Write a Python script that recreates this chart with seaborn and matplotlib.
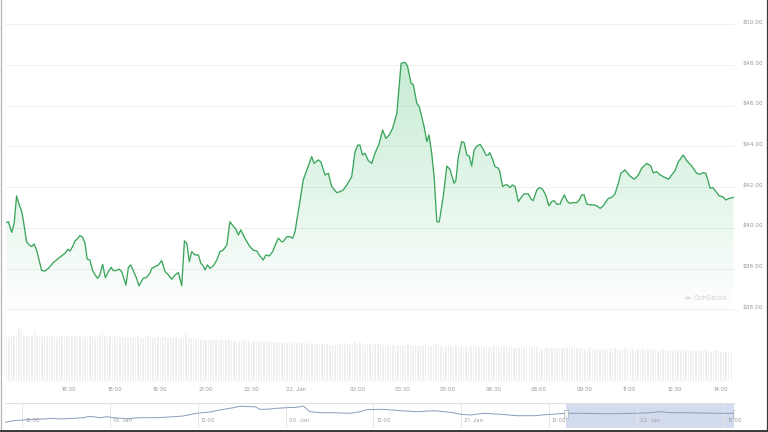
import numpy as np
import pandas as pd
import matplotlib
matplotlib.use("Agg")
import matplotlib.pyplot as plt
import seaborn as sns
from matplotlib.lines import Line2D
from matplotlib.patches import Rectangle, Circle
from matplotlib.transforms import blended_transform_factory, offset_copy, ScaledTranslation

# ---------------- data ----------------
# hours since 21 Jan 00:00
hours = [
    14.43, 14.49, 14.60, 14.68, 14.76, 14.85, 14.93, 14.98, 15.09, 15.18,
    15.26, 15.34, 15.42, 15.59, 15.70, 15.81, 15.97, 16.19, 16.36, 16.45,
    16.52, 16.61, 16.69, 16.76, 16.85, 16.94, 17.02, 17.09, 17.18, 17.27,
    17.35, 17.44, 17.51, 17.60, 17.69, 17.79, 17.88, 17.95, 18.04, 18.14,
    18.23, 18.37, 18.45, 18.53, 18.61, 18.72, 18.80, 18.94, 19.05, 19.16,
    19.22, 19.33, 19.44, 19.55, 19.66, 19.77, 19.88, 19.99, 20.10, 20.21,
    20.30, 20.38, 20.46, 20.54, 20.65, 20.76, 20.84, 20.92, 20.98, 21.06,
    21.14, 21.25, 21.37, 21.47, 21.58, 21.70, 21.80, 21.91, 22.00, 22.08,
    22.16, 22.24, 22.36, 22.46, 22.57, 22.69, 22.79, 22.90, 22.99, 23.10,
    23.21, 23.32, 23.40, 23.51, 23.56, 23.68, 23.78, 23.87, 23.95, 24.01,
    24.11,
    24.22, 24.34, 24.50, 24.58, 24.72, 24.80, 24.94, 25.05, 25.16, 25.33,
    25.43, 25.54, 25.66, 25.82, 25.93, 26.02, 26.09, 26.18, 26.26, 26.37,
    26.48, 26.59, 26.73, 26.84, 26.95, 27.06, 27.17, 27.31, 27.45, 27.58,
    27.66, 27.78, 27.85, 27.97, 28.05, 28.21, 28.30, 28.37, 28.46, 28.54,
    28.63, 28.71, 28.84, 28.96, 29.06,
    29.20, 29.26, 29.34, 29.45, 29.53, 29.62, 29.70, 29.78, 29.86, 29.95,
    30.06, 30.16, 30.25, 30.33, 30.38, 30.47, 30.55, 30.66, 30.71, 30.80,
    30.88, 30.96, 31.04, 31.12, 31.21, 31.32, 31.43, 31.51, 31.65, 31.74,
    31.81, 31.93, 32.01, 32.12, 32.22, 32.33, 32.42, 32.50, 32.59, 32.70,
    32.75, 32.84, 32.92, 33.00, 33.13, 33.25, 33.33, 33.41, 33.49, 33.58,
    33.69, 33.82, 33.91, 34.02,
    34.12, 34.29, 34.40, 34.51, 34.62, 34.70, 34.84, 35.00, 35.15, 35.28,
    35.39, 35.56, 35.69, 35.77, 35.89, 36.00, 36.10, 36.27, 36.38, 36.49,
    36.60, 36.76, 36.88, 37.04, 37.21, 37.32, 37.40, 37.51, 37.65, 37.74,
    37.87, 37.95, 38.07, 38.17, 38.28, 38.42,
]
prices = [
    40.26, 40.30, 39.78, 40.23, 41.57, 41.13, 40.80, 40.39, 39.32, 39.16,
    39.08, 39.21, 38.91, 37.90, 37.88, 38.01, 38.29, 38.56, 38.75, 38.95,
    38.86, 39.08, 39.37, 39.44, 39.62, 39.54, 39.24, 38.47, 38.42, 37.90,
    37.69, 37.52, 37.69, 38.21, 37.55, 37.85, 38.06, 37.90, 37.90, 37.97,
    37.85, 37.19, 38.06, 38.18, 37.90, 37.52, 37.15, 37.52, 37.57, 37.77,
    38.01, 38.09, 38.18, 38.39, 37.85, 37.69, 37.47, 37.69, 37.80, 37.16,
    39.36, 39.24, 38.34, 38.83, 38.67, 38.67, 38.26, 38.13, 37.93, 38.18,
    38.01, 38.13, 38.42, 38.83, 38.91, 39.16, 40.30, 40.09, 39.93, 39.65,
    39.90, 39.65, 39.32, 39.08, 38.91, 38.86, 38.62, 38.42, 38.67, 38.62,
    38.83, 39.24, 39.49, 39.32, 39.32, 39.57, 39.57, 39.49, 39.81, 40.39,
    41.29,
    42.35, 42.85, 43.50, 43.17, 43.34, 43.25, 42.60, 42.68, 42.03, 41.73,
    41.78, 41.86, 42.11, 42.52, 43.74, 44.07, 44.07, 43.58, 43.67, 43.30,
    43.17, 43.67, 44.16, 44.81, 44.40, 44.57, 44.89, 45.63, 48.09, 48.14,
    47.96, 47.11, 47.06, 46.12, 45.96, 44.97, 44.24, 44.57, 43.67, 42.52,
    40.30, 40.30, 41.53, 43.04, 42.88,
    42.19, 42.35, 43.50, 44.24, 44.19, 43.58, 43.53, 43.04, 43.83, 44.02,
    44.11, 43.86, 43.58, 43.58, 43.70, 43.37, 43.01, 42.93, 42.76, 42.03,
    42.11, 42.11, 41.98, 42.11, 42.03, 41.29, 41.53, 41.67, 41.67, 41.41,
    41.34, 41.86, 41.98, 41.90, 41.62, 41.08, 41.29, 41.34, 41.16, 41.17,
    41.37, 41.62, 41.34, 41.21, 41.24, 41.24, 41.37, 41.62, 41.62, 41.17,
    41.13, 41.13, 41.08, 40.96,
    41.08, 41.45, 41.50, 41.67, 42.19, 42.68, 42.85, 42.55, 42.39, 42.60,
    42.93, 43.17, 43.04, 42.71, 42.76, 42.60, 42.52, 42.39, 42.60, 42.81,
    43.25, 43.58, 43.30, 43.04, 42.68, 42.63, 42.71, 42.68, 41.95, 41.98,
    41.73, 41.57, 41.53, 41.37, 41.45, 41.50,
]

# 5-minute volume bars (relative units)
vol_start = 14.43
vol_step = 5 / 60
volume = [
    45, 44, 46, 45, 47, 53, 52, 45, 46, 44, 45, 51,
    46, 45, 44, 46, 45, 44, 45, 46, 44, 45, 46, 45,
    45, 44, 46, 45, 44, 45, 43, 45, 44, 46, 45, 44,
    45, 46, 52, 45, 44, 45, 44, 46, 45, 44, 45, 44,
    44, 45, 43, 44, 45, 44, 43, 44, 45, 44, 43, 44,
    44, 43, 44, 45, 43, 44, 43, 44, 42, 43, 44, 47,
    43, 42, 41, 42, 43, 41, 42, 41, 42, 41, 42, 41,
    41, 42, 40, 41, 42, 41, 40, 41, 40, 41, 40, 41,
    40, 39, 40, 41, 39, 40, 39, 40, 39, 40, 39, 38,
    39, 38, 39, 38, 39, 38, 37, 38, 39, 38, 37, 38,
    38, 37, 38, 37, 36, 37, 38, 37, 36, 37, 36, 37,
    36, 37, 38, 37, 36, 37, 38, 37, 39, 37, 36, 37,
    37, 36, 37, 38, 37, 36, 35, 36, 37, 36, 35, 36,
    36, 35, 36, 37, 36, 35, 36, 35, 36, 35, 36, 35,
    35, 36, 37, 36, 35, 34, 35, 36, 35, 34, 35, 34,
    35, 34, 35, 34, 35, 36, 35, 34, 33, 34, 35, 34,
    34, 35, 34, 33, 34, 35, 34, 33, 34, 33, 34, 33,
    34, 33, 34, 35, 34, 33, 34, 33, 32, 33, 34, 33,
    33, 34, 33, 32, 33, 34, 33, 32, 33, 34, 33, 32,
    33, 32, 33, 34, 33, 32, 31, 32, 33, 32, 31, 32,
    32, 33, 32, 31, 32, 33, 32, 31, 32, 31, 32, 31,
    32, 31, 32, 33, 32, 31, 30, 31, 32, 31, 30, 31,
    31, 32, 31, 30, 31, 32, 31, 30, 31, 30, 31, 30,
    30, 31, 30, 29, 30, 31, 30, 29, 30, 29, 28, 29,
]

# navigator (4-day overview), hours since 21 Jan 00:00
nav_hours = [
    -62.39, -61.26, -59.89, -58.52, -57.16, -55.79, -54.87, -53.05, -51.68, -50.77,
    -49.40, -48.48, -47.58, -45.75, -43.93, -41.65, -39.38, -38.01, -36.18, -34.36,
    -32.99, -31.17, -30.26, -28.89, -28.21, -27.52, -26.61, -25.24, -23.87, -22.50,
    -21.60, -20.68, -19.32, -17.50, -15.21, -13.85, -12.93, -10.66, -8.28, -6.01,
    -3.73, -1.44, -0.08, 1.29, 3.11, 5.39, 7.66, 9.95, 12.23, 14.28,
    16.79, 19.07, 21.34, 23.62, 25.91, 27.28, 28.64, 30.46, 32.75, 35.02, 37.30,
]
nav_prices = [
    19.5, 23.5, 25.25, 27.0, 27.75, 29.5, 27.75, 29.5, 31.0, 34.5,
    31.0, 33.5, 31.0, 28.5, 31.0, 31.0, 33.5, 35.25, 42.0, 45.25,
    50.25, 56.0, 59.5, 58.5, 58.5, 52.0, 52.0, 54.5, 56.0, 57.0,
    60.25, 46.0, 43.5, 43.5, 42.0, 46.0, 51.0, 52.0, 48.5, 46.0,
    48.5, 44.5, 39.5, 37.75, 42.0, 39.5, 36.0, 36.0, 39.5, 42.0,
    42.0, 41.0, 41.0, 42.0, 43.5, 46.0, 43.5, 43.5, 42.75, 42.0, 42.0,
]
nav_sel_start = 14.28
nav_sel_end = 37.37

price_ticks = [36, 38, 40, 42, 44, 46, 48, 50]
time_ticks = [16.5, 18, 19.5, 21, 22.5, 24, 26, 27.5, 29, 30.5, 32, 33.5, 35, 36.5, 38]
time_labels = ["16:30", "18:00", "19:30", "21:00", "22:30", "22. Jan", "02:00", "03:30",
               "05:00", "06:30", "08:00", "09:30", "11:00", "12:30", "14:00"]
nav_ticks = [-60, -48, -36, -24, -12, 0, 12, 24, 36]
nav_labels = ["12:00", "19. Jan", "12:00", "20. Jan", "12:00", "21. Jan", "12:00", "22. Jan", "12:00"]

# ---------------- style ----------------
sns.set_theme(style="white")
plt.rcParams['font.family'] = ['Inter', 'DejaVu Sans']

W, H = 768, 432
fig = plt.figure(figsize=(W / 100, H / 100), dpi=100)
fig.patch.set_facecolor("white")


def rect(l, t, r, b):
    return [l / W, 1 - b / H, (r - l) / W, (b - t) / H]


ax = fig.add_axes(rect(5, 12, 735, 318))
axv = fig.add_axes(rect(5, 326, 735, 381))
axn = fig.add_axes(rect(5, 403, 735, 428))

XMIN, XMAX = 14.378, 38.47
YMIN, YMAX = 35.57, 50.61
LABEL_C = "#9a9a9a"

# ---------------- main price chart ----------------
df = pd.DataFrame({"hours": hours, "price": prices})
for v in price_ticks:
    ax.axhline(v, color="#f0f0f0", lw=0.7, zorder=0)

poly = ax.fill_between(df["hours"], df["price"], YMIN, facecolor="none", edgecolor="none")
n = 256
rgba = np.zeros((n, 1, 4))
rgba[:, 0, 0] = 0 / 255
rgba[:, 0, 1] = 168 / 255
rgba[:, 0, 2] = 62 / 255
rgba[:, 0, 3] = np.linspace(0.27, 0.0, n)
im = ax.imshow(rgba, extent=[XMIN, XMAX, YMIN, YMAX], origin="upper", aspect="auto",
               interpolation="bilinear", zorder=1)
im.set_clip_path(poly.get_paths()[0], transform=ax.transData)

sns.lineplot(data=df, x="hours", y="price", ax=ax, color="#3ba55c", lw=0.95, zorder=3)
ax.set_xlim(XMIN, XMAX)
ax.set_ylim(YMIN, YMAX)
ax.yaxis.tick_right()
ax.set_yticks(price_ticks)
ax.set_yticklabels([f"${v:.2f}" for v in price_ticks])
ax.tick_params(axis="y", length=0, pad=5.5, labelsize=4.3, labelcolor=LABEL_C)
for lab in ax.get_yticklabels():
    lab.set_transform(lab.get_transform() + ScaledTranslation(0, 2 / 100, fig.dpi_scale_trans))
ax.set_xticks([])
ax.set_xlabel("")
ax.set_ylabel("")
ax.grid(False)
for s in ax.spines.values():
    s.set_visible(False)
ax.patch.set_alpha(0)

# ---------------- volume ----------------
vol_hours = [round(vol_start + i * vol_step, 4) for i in range(len(volume))]
dv = pd.DataFrame({"hours": vol_hours, "volume": volume})
sns.barplot(data=dv, x="hours", y="volume", native_scale=True, color="#f0f0f0",
            saturation=1, width=0.6, linewidth=0, errorbar=None, ax=axv)
axv.set_xlim(XMIN, XMAX)
axv.set_ylim(0, 55)
axv.set_xticks(time_ticks)
axv.set_xticklabels(time_labels)
axv.tick_params(axis="x", length=0, pad=4, labelsize=4.1, labelcolor=LABEL_C)
axv.set_yticks([])
axv.set_xlabel("")
axv.set_ylabel("")
axv.grid(False)
for s in axv.spines.values():
    s.set_visible(False)
axv.patch.set_alpha(0)

# ---------------- navigator ----------------
dn = pd.DataFrame({"hours": nav_hours, "price": nav_prices})
axn.axvspan(nav_sel_start, nav_sel_end, color="#d3dbee", lw=0, zorder=0)
for t in nav_ticks:
    axn.axvline(t, color="#e6e6e6", lw=0.7, zorder=0.5)
sns.lineplot(data=dn, x="hours", y="price", ax=axn, color="#8a9bbf", lw=0.7, zorder=2)
axn.set_xlim(-62.39, 37.44)
axn.set_ylim(5.25, 67.75)
btr = blended_transform_factory(axn.transData, axn.transAxes)
ltr = offset_copy(btr, fig=fig, x=3, y=0, units="dots")
for t, lab in zip(nav_ticks, nav_labels):
    axn.text(t, 0.32, lab, transform=ltr, fontsize=4.1, color="#a0a0a0", va="center", ha="left", zorder=3)
for t in (nav_sel_start, nav_sel_end):
    axn.add_patch(Rectangle((t - 0.27, 0.42), 0.54, 0.32, transform=btr, facecolor="#f4f4f4",
                            edgecolor="#a0a0a0", lw=0.4, zorder=4))
axn.set_xticks([])
axn.set_yticks([])
axn.set_xlabel("")
axn.set_ylabel("")
axn.grid(False)
for k, s in axn.spines.items():
    s.set_visible(k == "top")
axn.spines["top"].set_color("#e2e2e2")
axn.spines["top"].set_linewidth(0.7)
axn.patch.set_alpha(0)

# ---------------- watermark ----------------
fig.patches.append(Circle((688 / W, 1 - 298 / H), 3 / W, transform=fig.transFigure,
                          facecolor="#e2e2e2", edgecolor="none"))
fig.text(694 / W, 1 - 298 / H, "CoinGecko", fontsize=4.6, color="#d2d2d2", va="center", ha="left")

# ---------------- frame ----------------
fig.add_artist(Line2D([0.6 / W, 0.6 / W], [0, 1], transform=fig.transFigure, color="#b4b4b4", lw=0.9))
fig.add_artist(Line2D([767.4 / W, 767.4 / W], [0, 1], transform=fig.transFigure, color="#3a3a3a", lw=0.9))
fig.add_artist(Line2D([0, 1], [1 - 431 / H, 1 - 431 / H], transform=fig.transFigure, color="#3a3a3a", lw=1.4))

fig.savefig("out.png", dpi=100, facecolor="white")
